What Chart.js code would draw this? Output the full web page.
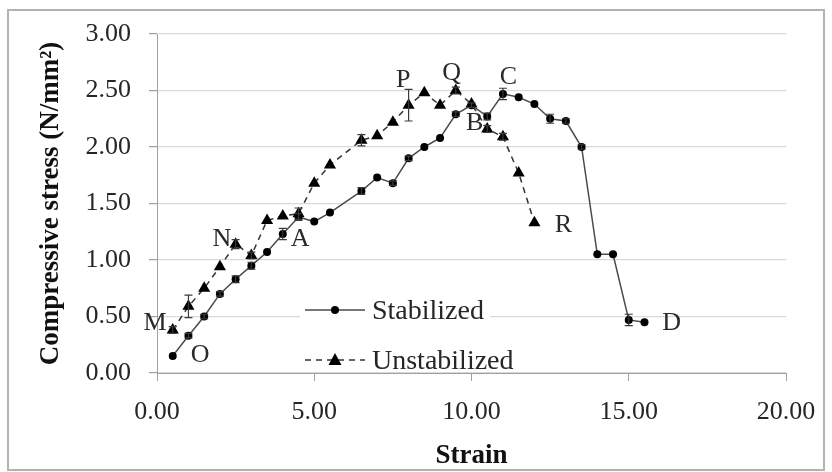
<!DOCTYPE html>
<html>
<head>
<meta charset="utf-8">
<script src="https://cdn.jsdelivr.net/npm/chart.js@4.4.0/dist/chart.umd.min.js"></script>
<style>
  html, body { margin: 0; padding: 0; background: #fff; }
  canvas { display: block; }
</style>
</head>
<body>
<canvas id="stress_chart" width="832" height="472"></canvas>
<script>
// strain values (x) and compressive stress (y)
const stab_strain = [0.5, 1, 1.5, 2, 2.5, 3, 3.5, 4, 4.5, 5, 5.5, 6.5, 7, 7.5, 8, 8.5, 9, 9.5, 10, 10.5, 11, 11.5, 12, 12.5, 13, 13.5, 14, 14.5, 15, 15.5];
const stab_stress = [0.15, 0.33, 0.50, 0.70, 0.83, 0.95, 1.07, 1.23, 1.38, 1.34, 1.42, 1.61, 1.73, 1.68, 1.90, 2.00, 2.08, 2.29, 2.37, 2.27, 2.47, 2.44, 2.38, 2.25, 2.23, 2.00, 1.05, 1.05, 0.47, 0.45];
const stab_error = [0, 0.02, 0.02, 0.02, 0.03, 0.03, 0, 0.05, 0.03, 0, 0, 0.03, 0, 0.02, 0.02, 0, 0, 0.02, 0.02, 0.03, 0.05, 0, 0, 0.04, 0.02, 0.02, 0, 0, 0.05, 0];

const unstab_strain = [0.5, 1, 1.5, 2, 2.5, 3, 3.5, 4, 4.5, 5, 5.5, 6.5, 7, 7.5, 8, 8.5, 9, 9.5, 10, 10.5, 11, 11.5, 12];
const unstab_stress = [0.38, 0.59, 0.75, 0.94, 1.14, 1.04, 1.35, 1.39, 1.41, 1.68, 1.84, 2.06, 2.10, 2.22, 2.37, 2.48, 2.37, 2.50, 2.38, 2.16, 2.09, 1.77, 1.33];
const unstab_error = [0.03, 0.1, 0, 0, 0.04, 0.03, 0, 0, 0.05, 0, 0, 0.05, 0, 0, 0.14, 0, 0, 0.03, 0, 0.03, 0.03, 0, 0];

// point labels on the curves
const point_names = ['M', 'O', 'N', 'A', 'P', 'Q', 'B', 'C', 'R', 'D'];
const point_name_x = [-0.06, 1.37, 2.06, 4.55, 7.83, 9.37, 10.1, 11.17, 12.92, 16.36];
const point_name_y = [0.44, 0.16, 1.18, 1.18, 2.59, 2.65, 2.21, 2.62, 1.31, 0.44];

const series_names = ['Stabilized', 'Unstabilized'];
const x_ticks = [0, 5, 10, 15, 20];
const y_ticks = [0, 0.5, 1, 1.5, 2, 2.5, 3];

const serif = 'Liberation Serif, Times New Roman, serif';
const axis_grey = '#a0a0a0';

const to_points = (xs, ys) => xs.map((x, i) => ({x: x, y: ys[i]}));

// error bars with small caps
const error_bars = {
    id: 'error_bars',
    afterDatasetsDraw(chart) {
        const c = chart.ctx;
        const xs = chart.scales.x, ys = chart.scales.y;
        c.save();
        c.strokeStyle = '#3a3a3a';
        c.lineWidth = 1.2;
        chart.data.datasets.forEach(ds => {
            ds.data.forEach((p, i) => {
                const e = ds.errors[i];
                if (!e) return;
                const px = xs.getPixelForValue(p.x);
                const y1 = ys.getPixelForValue(p.y - e);
                const y2 = ys.getPixelForValue(p.y + e);
                c.beginPath();
                c.moveTo(px, y1); c.lineTo(px, y2);
                c.moveTo(px - 4, y1); c.lineTo(px + 4, y1);
                c.moveTo(px - 4, y2); c.lineTo(px + 4, y2);
                c.stroke();
            });
        });
        c.restore();
    }
};

// letters M..D next to the curves
const point_letters = {
    id: 'point_letters',
    afterDatasetsDraw(chart) {
        const c = chart.ctx;
        const xs = chart.scales.x, ys = chart.scales.y;
        c.save();
        c.font = '26px ' + serif;
        c.fillStyle = '#2a2a2a';
        c.textAlign = 'center';
        c.textBaseline = 'middle';
        point_names.forEach((t, i) => {
            c.fillText(t, xs.getPixelForValue(point_name_x[i]), ys.getPixelForValue(point_name_y[i]));
        });
        c.restore();
    }
};

// legend drawn inside the plot, plus the outer frame
const inner_legend = {
    id: 'inner_legend',
    afterDraw(chart) {
        const c = chart.ctx;
        c.save();
        c.fillStyle = '#fff';
        c.fillRect(300, 290, 190, 81);
        const rows = [310, 360];
        rows.forEach((y, i) => {
            const ds = chart.data.datasets[i];
            c.strokeStyle = ds.borderColor;
            c.lineWidth = 1.5;
            c.setLineDash(ds.borderDash || []);
            c.beginPath();
            c.moveTo(305, y); c.lineTo(365, y);
            c.stroke();
            c.setLineDash([]);
            c.fillStyle = '#000';
            c.beginPath();
            if (i === 0) {
                c.arc(335, y, 4, 0, Math.PI * 2);
            } else {
                c.moveTo(335, y - 7); c.lineTo(341.5, y + 5); c.lineTo(328.5, y + 5); c.closePath();
            }
            c.fill();
            c.fillStyle = '#262626';
            c.font = '28px ' + serif;
            c.textAlign = 'left';
            c.textBaseline = 'alphabetic';
            c.fillText(series_names[i], 372, y + 9);
        });
        c.strokeStyle = '#b3b3b3';
        c.lineWidth = 2;
        c.strokeRect(8, 10, 816, 460);
        c.restore();
    }
};

const data_stress = {
    datasets: [{
        label: series_names[0],
        data: to_points(stab_strain, stab_stress),
        errors: stab_error,
        showLine: true,
        borderColor: '#4a4a4a',
        borderWidth: 1.5,
        pointStyle: 'circle',
        pointRadius: 4,
        pointBackgroundColor: '#000',
        pointBorderColor: '#000',
        pointBorderWidth: 0,
        tension: 0
    }, {
        label: series_names[1],
        data: to_points(unstab_strain, unstab_stress),
        errors: unstab_error,
        showLine: true,
        borderColor: '#333',
        borderWidth: 1.5,
        borderDash: [6, 5],
        pointStyle: 'triangle',
        pointRadius: 7,
        pointBackgroundColor: '#000',
        pointBorderColor: '#000',
        pointBorderWidth: 0,
        tension: 0
    }]
};

const options = {
    responsive: false,
    animation: false,
    devicePixelRatio: 1,
    layout: {padding: {left: 10, right: 46, top: 34, bottom: 0}},
    plugins: {legend: {display: false}, tooltip: {enabled: false}},
    scales: {
        x: {
            type: 'linear',
            min: 0, max: 20,
            afterBuildTicks: s => { s.ticks = x_ticks.map(v => ({value: v})); },
            afterFit: s => { s.height = 99; },
            ticks: {
                padding: 16,
                color: '#262626',
                font: {family: serif, size: 26},
                callback: v => v.toFixed(2)
            },
            grid: {drawOnChartArea: false, tickColor: axis_grey, tickLength: 8},
            border: {color: axis_grey, width: 1},
            title: {
                display: true, text: 'Strain', color: '#111',
                font: {family: serif, size: 27, weight: 'bold'},
                padding: {top: 0, bottom: 0}
            }
        },
        y: {
            type: 'linear',
            min: 0, max: 3,
            afterBuildTicks: s => { s.ticks = y_ticks.map(v => ({value: v})); },
            afterFit: s => { s.width = 147; },
            ticks: {
                padding: 18,
                color: '#262626',
                font: {family: serif, size: 26},
                callback: v => v.toFixed(2)
            },
            grid: {color: '#d9d9d9', lineWidth: 1.2, tickColor: axis_grey, tickLength: 8},
            border: {color: axis_grey, width: 1},
            title: {
                display: true, text: 'Compressive stress (N/mm\u00B2)', color: '#111',
                font: {family: serif, size: 27, weight: 'bold'},
                padding: {top: 25, bottom: 0}
            }
        }
    }
};

const chart_stress = new Chart(document.getElementById('stress_chart'), {
    type: 'scatter',
    data: data_stress,
    options: options,
    plugins: [error_bars, point_letters, inner_legend]
});
</script>
</body>
</html>
